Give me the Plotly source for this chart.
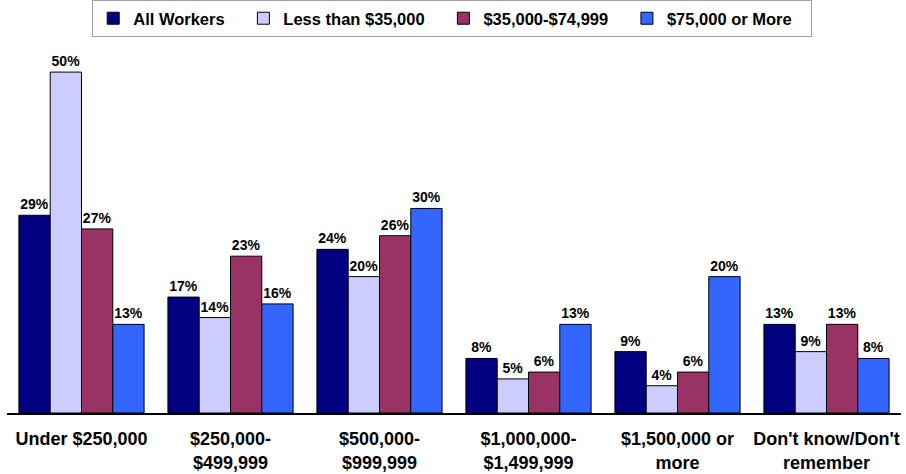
import plotly.graph_objects as go

categories = ["Under $250,000", "$250,000-<br>$499,999", "$500,000-<br>$999,999",
              "$1,000,000-<br>$1,499,999", "$1,500,000 or<br>more", "Don't know/Don't<br>remember"]
series_names = ["All Workers", "Less than $35,000", "$35,000-$74,999", "$75,000 or More"]
all_workers = [29, 17, 24, 8, 9, 13]
less_35k = [50, 14, 20, 5, 4, 9]
mid_35_75k = [27, 23, 26, 6, 6, 13]
over_75k = [13, 16, 30, 13, 20, 8]
colors = ["#000080", "#CCCCFF", "#993366", "#3366FF"]

FONT = "Liberation Sans, Arial, sans-serif"
PAD = "\u00a0" * 3

fig = go.Figure()
for name, vals, col in zip(series_names, [all_workers, less_35k, mid_35_75k, over_75k], colors):
    fig.add_trace(go.Bar(
        x=categories, y=vals, name=name + PAD,
        marker=dict(color=col, line=dict(color="#000000", width=1)),
        text=[f"{v}%" for v in vals], textposition="outside",
        textfont=dict(family=FONT, size=14, color="#000000", weight="bold"),
        cliponaxis=False,
    ))

fig.update_layout(
    width=906, height=474,
    margin=dict(l=7, r=5, t=38, b=61, autoexpand=False),
    barmode="group", bargap=0.16, bargroupgap=0,
    paper_bgcolor="white", plot_bgcolor="white",
    font=dict(family=FONT, color="#000000"),
    showlegend=True,
    legend=dict(
        orientation="h", x=0.498, xanchor="center", yref="container", y=1.0, yanchor="top",
        font=dict(family=FONT, size=16.5, color="#000000", weight="bold"),
        bgcolor="white", bordercolor="#A0A0A0", borderwidth=1,
        traceorder="normal",
    ),
    uniformtext=dict(mode=False),
)
fig.update_xaxes(
    showline=True, linecolor="#000000", linewidth=1.5, showgrid=False, ticks="",
    tickfont=dict(family=FONT, size=18, color="#000000", weight="bold"),
    ticklabelstandoff=9, automargin=False,
)
fig.update_yaxes(visible=False, range=[0, 55], showgrid=False, automargin=False)

fig.write_html("out.html",
               config={"displayModeBar": False},
               post_script="document.body.style.margin='0';document.body.style.overflow='hidden';")
